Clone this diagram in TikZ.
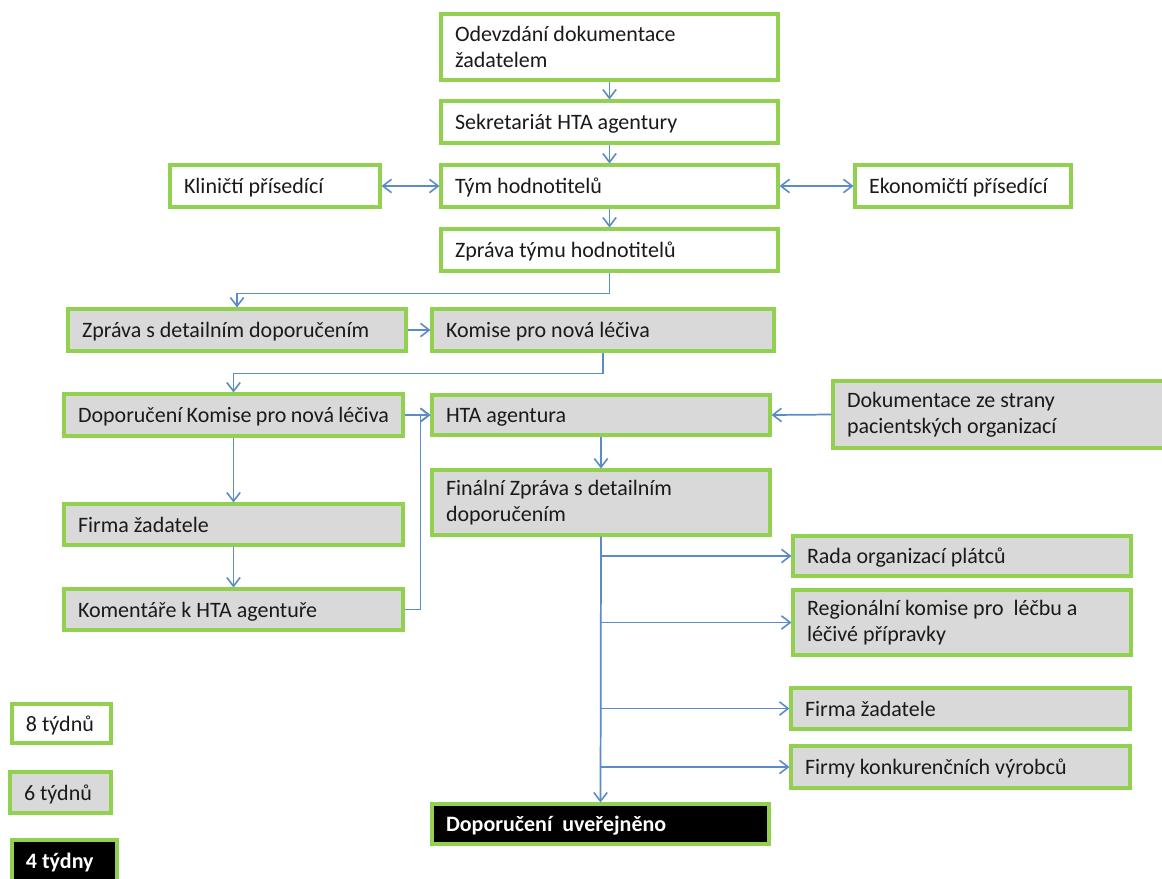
\documentclass[tikz,border=0pt]{standalone}
\usepackage{fontspec}
\setmainfont{Carlito}
\usetikzlibrary{arrows.meta}
\definecolor{grn}{HTML}{92D050}
\definecolor{gry}{HTML}{D9D9D9}
\definecolor{lnk}{HTML}{5B8BC8}
\definecolor{txt}{HTML}{1A1A1A}
\newcommand\bx[7]{%
 \pgfmathsetmacro\bw{(#4-#2)*0.75}%
 \pgfmathsetmacro\bh{(#5-#3)*0.75}%
 \pgfmathsetmacro\tw{\bw-21}%
 \node[#6, minimum width=\bw pt, minimum height=\bh pt, text width=\tw pt] (#1) at ({(#2+#4)/2},{(#3+#5)/2}) {\spaceskip=0.226em plus 0.1em minus 0.05em\relax #7};}
\tikzset{
 box/.style={draw=grn, line width=2.3pt, inner xsep=10.5pt, inner ysep=0pt, align=left,
   font=\fontsize{16.5}{19.5}\selectfont, text=txt},
 one/.style={text depth=0pt},
 wbox/.style={box, fill=white},
 gbox/.style={box, fill=gry},
 kbox/.style={box, fill=black, text=white, font=\fontsize{16.5}{19.5}\selectfont\bfseries},
 tip/.tip={Straight Barb[length=6.5pt,width=10pt,line width=1.2pt]},
 arr/.style={draw=lnk, line width=1.3pt, -tip},
 darr/.style={draw=lnk, line width=1.3pt, tip-tip}
}
\begin{document}
\begin{tikzpicture}[x=0.75pt,y=-0.75pt]
\useasboundingbox (0,0) rectangle (1162,878);
\clip (0,0) rectangle (1162,878);
\bx{od}{441}{14}{778}{80}{wbox}{Odevzdání dokumentace\\ žadatelem}
\bx{sk}{441}{101}{778}{143}{wbox,one}{Sekretariát HTA agentury}
\bx{kl}{170}{165}{380}{207}{wbox,one}{Kliničtí přísedící}
\bx{ty}{441}{165}{778}{207}{wbox,one}{Tým hodnotitelů}
\bx{ek}{855}{165}{1071}{207}{wbox,one}{Ekonomičtí přísedící}
\bx{zt}{441}{229}{778}{271}{wbox,one}{Zpráva týmu hodnotitelů}
\bx{zd}{68}{309}{406}{351}{gbox,one}{Zpráva s detailním doporučením}
\bx{kp}{432}{309}{774}{351}{gbox,one}{Komise pro nová léčiva}
\bx{dk}{64}{394}{403}{436}{gbox,one}{Doporučení Komise pro nová léčiva}
\bx{hta}{432}{395}{770}{435}{gbox,one}{HTA agentura}
\bx{dok}{833}{381}{1170}{448}{gbox}{Dokumentace ze strany\\ pacientských organizací}
\bx{fin}{432}{470}{770}{535}{gbox}{Finální Zpráva s detailním\\ doporučením}
\bx{fz}{64}{504}{403}{545}{gbox,one}{Firma žadatele}
\bx{kom}{64}{589}{403}{630}{gbox,one}{Komentáře k HTA agentuře}
\bx{rada}{793}{536}{1131}{576}{gbox,one}{Rada organizací plátců}
\bx{reg}{793}{590}{1131}{655}{gbox}{Regionální komise pro \ léčbu a\\ léčivé přípravky}
\bx{fz2}{791}{688}{1130}{729}{gbox,one}{Firma žadatele}
\bx{fk}{791}{746}{1130}{788}{gbox,one}{Firmy konkurenčních výrobců}
\bx{dup}{432}{804}{769}{844}{kbox,one}{Doporučení \ uveřejněno}
\bx{l8}{12}{704}{111}{743}{wbox,one}{8 týdnů}
\bx{l6}{10}{772}{111}{813}{gbox,one}{6 týdnů}
\bx{l4}{12}{840}{117}{882}{kbox,one}{4 týdny}
% connectors
\draw[arr] (od.south) -- (sk.north);
\draw[arr] (sk.south) -- (ty.north);
\draw[darr] (kl.east) -- (ty.west);
\draw[darr] (ty.east) -- (ek.west);
\draw[arr] (ty.south) -- (zt.north);
\draw[arr] (zt.south) -- ++(0,21) -| (zd.north);
\draw[arr] (zd.east) -- (kp.west);
\draw[arr] (kp.south) -- ++(0,21) -| (dk.north);
\draw[arr] (dk.east) -- (hta.west);
\draw[arr] (dk.south) -- (fz.north);
\draw[arr] (fz.south) -- (kom.north);
\draw[arr] (kom.east) -- ++(16,0) |- (hta.west);
\draw[arr] (dok.west) -- (hta.east);
\draw[arr] (hta.south) -- (fin.north);
\draw[arr] (fin.south) -- (dup.north);
\draw[arr] (fin.south |- rada.west) -- (rada.west);
\draw[arr] (fin.south |- reg.west) -- (reg.west);
\draw[arr] (fin.south |- fz2.west) -- (fz2.west);
\draw[arr] (fin.south |- fk.west) -- (fk.west);
\end{tikzpicture}
\end{document}
